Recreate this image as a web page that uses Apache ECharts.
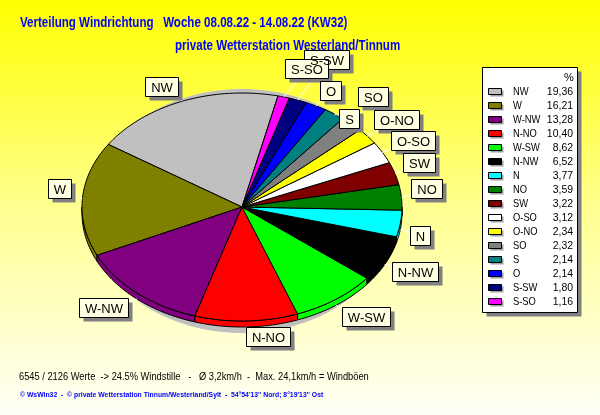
<!DOCTYPE html>
<html><head><meta charset="utf-8">
<script src="https://cdn.jsdelivr.net/npm/echarts@6/dist/echarts.min.js"></script>
<style>html,body{margin:0;padding:0;background:#fff;} #c{width:600px;height:415px;}</style>
</head><body><div id="c"></div>
<script>
// ---- data ----
const directions = ['NW','W','W-NW','N-NO','W-SW','N-NW','N','NO','SW','O-SO','O-NO','SO','S','O','S-SW','S-SO'];
const percents = [19.36,16.21,13.28,10.40,8.62,6.52,3.77,3.59,3.22,3.12,2.34,2.32,2.14,2.14,1.80,1.16];
const valueLabels = ['19,36','16,21','13,28','10,40','8,62','6,52','3,77','3,59','3,22','3,12','2,34','2,32','2,14','2,14','1,80','1,16'];
const titleLine1 = 'Verteilung Windrichtung   Woche 08.08.22 - 14.08.22 (KW32)';
const titleLine2 = 'private Wetterstation Westerland/Tinnum';
const footer1 = '6545 / 2126 Werte  -> 24.5% Windstille   -   \u00D8 3,2km/h  -  Max. 24,1km/h = Windb\u00F6en';
const footer2 = '\u00A9 WsWin32  -  \u00A9 private Wetterstation Tinnum/Westerland/Sylt  -  54\u00B054\'13\'\' Nord; 8\u00B019\'13\'\' Ost';

// ---- style / layout ----
const colors = ['#C0C0C0','#808000','#800080','#FF0000','#00FF00','#000000','#00FFFF','#008000','#800000','#FFFFFF','#FFFF00','#808080','#008080','#0000FF','#000080','#FF00FF'];
const labelNudge = [[-21,-15],[-23,-10],[-33,9],[22,10],[30,11],[30,7],[20,6],[25,-9],[24,-11],[30,-12],[29,-17],[21,-27.5],[14.5,4.5],[15,-15],[29,-41],[23,-28]];
const CX = 242, CY = 207, RX = 160, RY = 114, DEPTH = 6, START = 77;
const TITLE_FONT = 'bold 14px "Liberation Sans", Arial, sans-serif';
const LABEL_FONT = '13px "Liberation Sans", Arial, sans-serif';
const SMALL_FONT = '11px "Liberation Sans", Arial, sans-serif';

const total = percents.reduce((s, v) => s + v, 0);
const cum = []; { let acc = 0; percents.forEach(v => { cum.push(acc); acc += v; }); }
const mctx = document.createElement('canvas').getContext('2d');
mctx.font = LABEL_FONT;

function pt(a, dy) { const r = a * Math.PI / 180; return [CX + RX * Math.cos(r), CY - RY * Math.sin(r) + (dy || 0)]; }
function arc(a1, a2, dy) {
  const n = Math.max(2, Math.ceil(Math.abs(a2 - a1) / 1.5));
  const out = [];
  for (let k = 0; k <= n; k++) out.push(pt(a1 + (a2 - a1) * k / n, dy));
  return out;
}

function renderItem(params, api) {
  const i = params.dataIndex;
  const v = api.value(0);
  const a1 = START + cum[i] / total * 360;
  const a2 = a1 + v / total * 360;
  const col = colors[i];
  const children = [];
  if (i === 0) {
    const sh = [];
    for (let k = 0; k < 180; k++) { const r = k * 2 * Math.PI / 180; sh.push([CX + (RX - 6) * Math.cos(r), CY + 4 - (RY + 8) * Math.sin(r)]); }
    children.push({ type: 'polygon', shape: { points: sh }, style: { fill: '#C0C0C0' }, z2: 0 });
  }
  const s = Math.max(a1, 180), e = Math.min(a2, 360);
  if (e > s) {
    const pts = arc(s, e, 0).concat(arc(e, s, DEPTH));
    children.push({ type: 'polygon', shape: { points: pts }, style: { fill: col, stroke: '#000', lineWidth: 1 }, z2: 2 });
  }
  const top = [[CX, CY]].concat(arc(a1, a2, 0));
  children.push({ type: 'polygon', shape: { points: top }, style: { fill: col, stroke: '#000', lineWidth: 1 }, z2: 5 });
  const m = (a1 + a2) / 2;
  const sm = Math.sin(m * Math.PI / 180);
  const P = pt(m, sm < 0 ? DEPTH : 0);
  const name = directions[i];
  const w = Math.round(mctx.measureText(name).width + 11);
  const h = 19;
  const bx = Math.round(P[0] + labelNudge[i][0] - w / 2) + 0.5;
  const by = Math.round(P[1] + labelNudge[i][1] - h / 2) + 0.5;
  children.push({ type: 'line', shape: { x1: P[0], y1: P[1], x2: bx + w / 2, y2: by + h / 2 }, style: { stroke: '#FFFFFF', lineWidth: 1 }, z2: 20 });
  children.push({ type: 'rect', shape: { x: bx + 4, y: by + 4, width: w, height: h }, style: { fill: '#808080' }, z2: 21 });
  children.push({ type: 'rect', shape: { x: bx, y: by, width: w, height: h }, style: { fill: '#FFFFE1', stroke: '#000', lineWidth: 1 }, z2: 22 });
  children.push({ type: 'text', style: { text: name, x: bx + w / 2, y: by + h / 2 + 1, align: 'center', verticalAlign: 'middle', font: LABEL_FONT, fill: '#000' }, z2: 23 });
  return { type: 'group', children };
}

function sText(text, x, y, font, fill, sx, align, va) {
  return { type: 'text', x: x, y: y, scaleX: sx, style: { text: text, x: 0, y: 0, font: font, fill: fill, align: align || 'left', verticalAlign: va || 'middle' } };
}

const LX = 482, LY = 67, LW = 95, LH = 245;
const legendEls = [
  { type: 'rect', shape: { x: LX + 4.5, y: LY + 4.5, width: LW, height: LH }, style: { fill: '#808080' } },
  { type: 'rect', shape: { x: LX + 0.5, y: LY + 0.5, width: LW, height: LH }, style: { fill: '#FFFFFF', stroke: '#000', lineWidth: 1 } },
  sText('%', 569, 78, SMALL_FONT, '#000', 1, 'center')
];
directions.forEach((d, i) => {
  const ry = 92 + 14 * i;
  legendEls.push({ type: 'rect', shape: { x: 490.5, y: ry - 1.5, width: 13, height: 6 }, style: { fill: '#A0A0A0' } });
  legendEls.push({ type: 'rect', shape: { x: 488.5, y: ry - 3.5, width: 13, height: 6 }, style: { fill: colors[i], stroke: '#000', lineWidth: 1 } });
  legendEls.push(sText(d, 513, ry, SMALL_FONT, '#000', 0.85));
  legendEls.push(sText(valueLabels[i], 573, ry, SMALL_FONT, '#000', 0.95, 'right'));
});

const chart = echarts.init(document.getElementById('c'), null, { renderer: 'canvas' });
chart.setOption({
  animation: false,
  backgroundColor: { type: 'linear', x: 0, y: 0, x2: 0, y2: 1, colorStops: [
    { offset: 0, color: '#FFFF00' }, { offset: 0.5, color: '#FFFF90' }, { offset: 1, color: '#FFFFF8' } ] },
  graphic: [
    sText(titleLine1, 20, 30, TITLE_FONT, '#0000FF', 0.826, 'left', 'bottom'),
    sText(titleLine2, 175, 53, TITLE_FONT, '#0000FF', 0.827, 'left', 'bottom'),
    sText(footer1, 19, 377, '10px "Liberation Sans", Arial, sans-serif', '#000', 0.93),
    sText(footer2, 20, 395, 'bold 7px "Liberation Sans", Arial, sans-serif', '#0000FF', 0.975),
    { type: 'group', children: legendEls }
  ],
  series: [{
    type: 'custom', coordinateSystem: 'none', silent: true, z: 5,
    renderItem: renderItem,
    data: percents.map((v, i) => ({ name: directions[i], value: v }))
  }]
});
</script></body></html>
